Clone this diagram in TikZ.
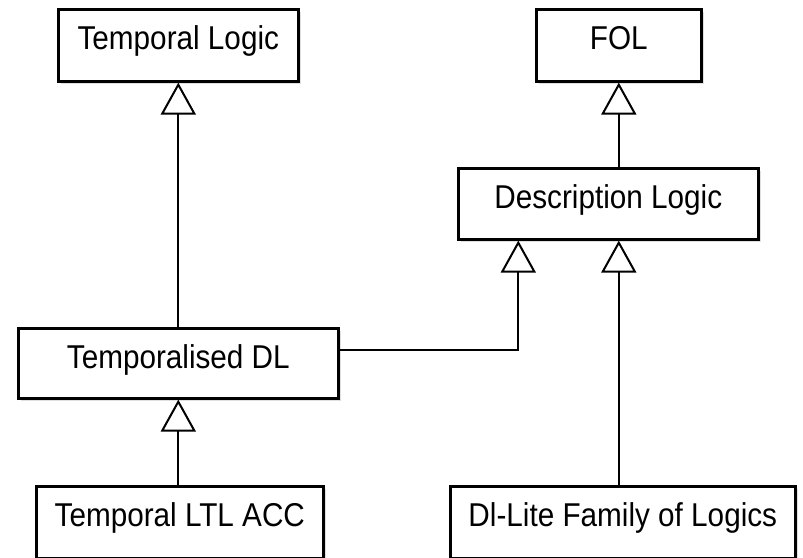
\documentclass[tikz,border=0pt]{standalone}
\usepackage{fontspec}
\setmainfont{Liberation Sans}[FakeStretch=0.9]
\usepackage{tikz}
\usetikzlibrary{arrows.meta,shadows}

\begin{document}
\begin{tikzpicture}[x=1pt, y=-1pt,
        font=\fontsize{33}{40}\selectfont,
        klasse/.style={draw, line width=2.6pt, fill=white, anchor=north west,
            inner xsep=0pt, inner ysep=0pt, text height=40pt, text depth=32pt,
            drop shadow={opacity=0.25, shadow xshift=3pt, shadow yshift=-3pt}},
        erbt/.style={line width=2pt, line join=miter,
            -{Triangle[open, length=32pt, width=35pt]}}
        ]
            \useasboundingbox (0,0) rectangle (803,557);

            % Klassen
            \node[klasse, minimum width=240pt] (tl)   at (57,8)    {Temporal Logic};
            \node[klasse, minimum width=165pt] (fol)  at (535,8)   {FOL};
            \node[klasse, minimum width=300pt, text depth=31pt] (dl) at (457,167) {Description Logic};
            \node[klasse, minimum width=320pt, text depth=30pt] (tdl) at (17,327) {Temporalised DL};
            \node[klasse, minimum width=287pt] (ltl)  at (35,485)  {Temporal LTL ACC};
            \node[klasse, minimum width=345pt] (lite) at (449,485) {Dl-Lite Family of Logics};

            % Vererbung
            \draw[erbt] (tdl.north) -- (tl.south);
            \draw[erbt] (fol.south |- dl.north) -- (fol.south);
            \draw[erbt] (ltl.north -| tdl.south) -- (tdl.south);
            \draw[erbt] (lite.north -| fol.south) -- (dl.south -| fol.south);
            \draw[erbt] ([yshift=13pt]tdl.east) -| ([xshift=-90pt]dl.south);

        \end{tikzpicture}
\end{document}
